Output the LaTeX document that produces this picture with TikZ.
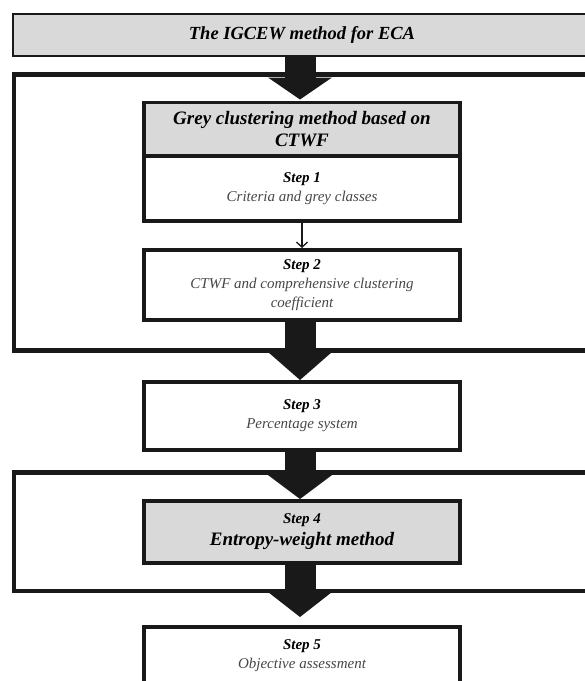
\documentclass[tikz,border=0pt]{standalone}
\usepackage{fontspec}
\setmainfont{Liberation Serif}
\usetikzlibrary{positioning,arrows.meta}

\colorlet{greyfill}{black!15}
\colorlet{edge}{black!90}
\colorlet{desc}{black!72}

\begin{document}
\begin{tikzpicture}[
  x=1pt, y=-1pt,
  font=\fontsize{15}{19}\selectfont\itshape,
  titlebox/.style={draw=edge, line width=2.2pt, fill=greyfill, outer sep=0pt,
    minimum width=578pt, minimum height=42pt, font=\fontsize{18.5}{21}\selectfont\bfseries\itshape},
  frame/.style={draw=edge, line width=4.5pt, outer sep=0pt, minimum width=576pt},
  box/.style={draw=edge, line width=3.2pt, fill=white, outer sep=0pt,
    minimum width=316pt, align=center, inner sep=2pt},
  greybox/.style={box, fill=greyfill},
  big/.style={font=\fontsize{19}{22}\selectfont\bfseries\itshape},
  bigarr/.style={draw=edge, line width=31pt,
    -{Triangle[width=64pt, length=#1, line width=0pt]}},
  arr/.style={draw=edge, line width=1.3pt, -{Straight Barb[length=5pt, width=11pt, line width=1.3pt]}}
]
\clip (0,0) rectangle (585,681);

% outer frames
\node[frame, minimum height=276pt] (f1) at (302,212.5) {};
\node[frame, minimum height=118.5pt] (f2) at (302,531.75) {};

\node[titlebox] (title) at (302,35) {The IGCEW method for ECA};

\node[greybox, minimum height=53.5pt, big] (grey) at (302,129.25)
  {Grey clustering method based on\\CTWF};
\node[box, minimum height=65pt, below=0pt of grey] (s1)
  {\textbf{Step 1}\\{\color{desc}Criteria and grey classes}};
\node[box, minimum height=70pt, below=29pt of s1] (s2)
  {\textbf{Step 2}\\{\color{desc}CTWF and comprehensive clustering}\\{\color{desc}coefficient}};
\node[box, minimum height=68pt, below=62pt of s2] (s3)
  {\textbf{Step 3}\\{\color{desc}Percentage system}};
\node[greybox, minimum height=62pt, below=51pt of s3] (s4)
  {\textbf{Step 4}\\[3pt]{\fontsize{19}{21}\selectfont\bfseries Entropy-weight method}};
\node[box, minimum height=58pt, below=64pt of s4] (s5)
  {\textbf{Step 5}\\{\color{desc}Objective assessment}};

\draw[arr, shorten >=2pt] (s1.south) -- (s2.north);

\draw[bigarr=22pt, shorten >=3pt] ([xshift=-2pt]title.south) -- ([xshift=-2pt]grey.north);
\draw[bigarr=28pt, shorten >=2pt] ([xshift=-2pt]s2.south) -- ([xshift=-2pt]s3.north);
\draw[bigarr=24pt, shorten >=2pt] ([xshift=-2pt]s3.south) -- ([xshift=-2pt]s4.north);
\draw[bigarr=25pt, shorten >=10pt] ([xshift=-2pt]s4.south) -- ([xshift=-2pt]s5.north);

\end{tikzpicture}
\end{document}
